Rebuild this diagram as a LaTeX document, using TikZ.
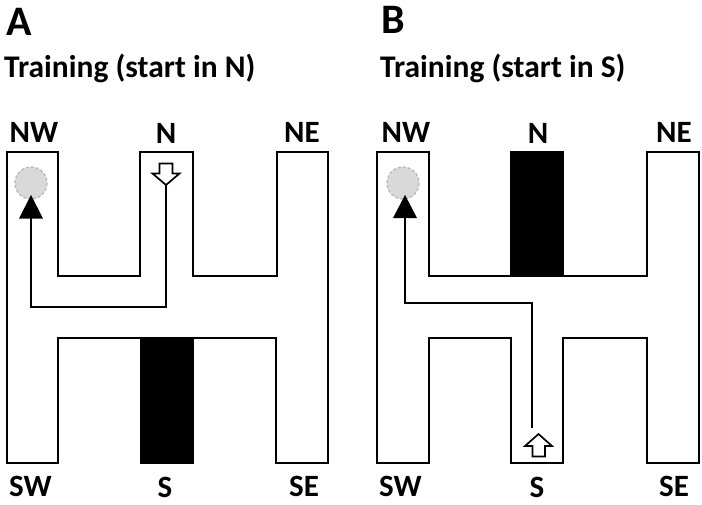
\documentclass[tikz,border=0pt]{standalone}
\usepackage{fontspec}
\setmainfont{Carlito}
\begin{document}
\begin{tikzpicture}[x=1pt,y=-1pt,
  wall/.style={line width=1.8pt, line join=miter},
  route/.style={line width=2.4pt},
  block/.style={fill=black, draw=black, line width=1.8pt},
  goal/.style={fill=black!15, draw=black!28, dashed, dash pattern=on 3pt off 2pt, line width=1.3pt},
  startarrow/.style={draw=black, fill=white, line width=1.7pt, line join=miter},
  lbl/.style={font=\fontsize{31}{31}\selectfont\bfseries, inner sep=0pt, anchor=base},
  panel/.style={font=\fontsize{42}{42}\selectfont\bfseries, inner sep=0pt, anchor=base west},
  ttl/.style={font=\fontsize{31.5}{31.5}\selectfont\bfseries, inner sep=0pt, anchor=base west}]
\useasboundingbox (0,0) rectangle (702,504);

% ---------------- Panel A ----------------
\node[panel] (pA) at (6,35) {A};
\node[ttl] (tA) at (4,77) {Training (start in N)};
\node[lbl] (nwA) at (34,142) {NW};
\node[lbl] (nA) at (166,143) {N};
\node[lbl] (neA) at (302,142) {NE};
\node[lbl] (swA) at (30.5,496) {SW};
\node[lbl] (sA) at (165,497) {S};
\node[lbl] (seA) at (304,496) {SE};

\fill[block] (141,338) rectangle (193,463);
\draw[wall] (7,152) -- (58,152) -- (58,276) -- (140,276) -- (140,152) -- (193,152)
  -- (193,276) -- (277,276) -- (277,152) -- (328,152) -- (328,463) -- (276,463)
  -- (276,338) -- (193,338) -- (193,463) -- (141,463) -- (141,338) -- (58,338)
  -- (58,463) -- (7,463) -- cycle;

\draw[goal] (31,183) circle (16);
\coordinate (a1) at (166,185);
\coordinate (a2) at (166,307);
\coordinate (a3) at (31,307);
\coordinate (a4) at (31,216);
\draw[route] (a1) -- (a2) -- (a3) -- (a4);
\fill (31,195) -- (43,218.5) -- (19,218.5) -- cycle;
\draw[startarrow] (159.5,163.5) -- (172.5,163.5) -- (172.5,173.5) -- (179.5,173.5)
  -- (166,185) -- (152.5,173.5) -- (159.5,173.5) -- cycle;

% ---------------- Panel B ----------------
\node[panel] (pB) at (381,33) {B};
\node[ttl] (tB) at (380,77) {Training (start in S)};
\node[lbl] (nwB) at (406,142) {NW};
\node[lbl] (nB) at (538,143) {N};
\node[lbl] (neB) at (674,142) {NE};
\node[lbl] (swB) at (400.5,496) {SW};
\node[lbl] (sB) at (537,497) {S};
\node[lbl] (seB) at (674,496) {SE};

\fill[block] (511,152) rectangle (563,276);
\draw[wall] (377,152) -- (429,152) -- (429,276) -- (511,276) -- (511,152) -- (563,152)
  -- (563,276) -- (647,276) -- (647,152) -- (699,152) -- (699,463) -- (647,463)
  -- (647,338) -- (563,338) -- (563,463) -- (511,463) -- (511,338) -- (429,338)
  -- (429,463) -- (377,463) -- cycle;

\draw[goal] (403,183) circle (16);
\coordinate (b1) at (532,428);
\coordinate (b2) at (532,303);
\coordinate (b3) at (405,303);
\coordinate (b4) at (405,216);
\draw[route] (b1) -- (b2) -- (b3) -- (b4);
\fill (405,195) -- (417,218) -- (393,218) -- cycle;
\draw[startarrow] (532.5,456.5) -- (545,456.5) -- (545,446) -- (552,446)
  -- (538.5,434) -- (525,446) -- (532.5,446) -- cycle;
\end{tikzpicture}
\end{document}
